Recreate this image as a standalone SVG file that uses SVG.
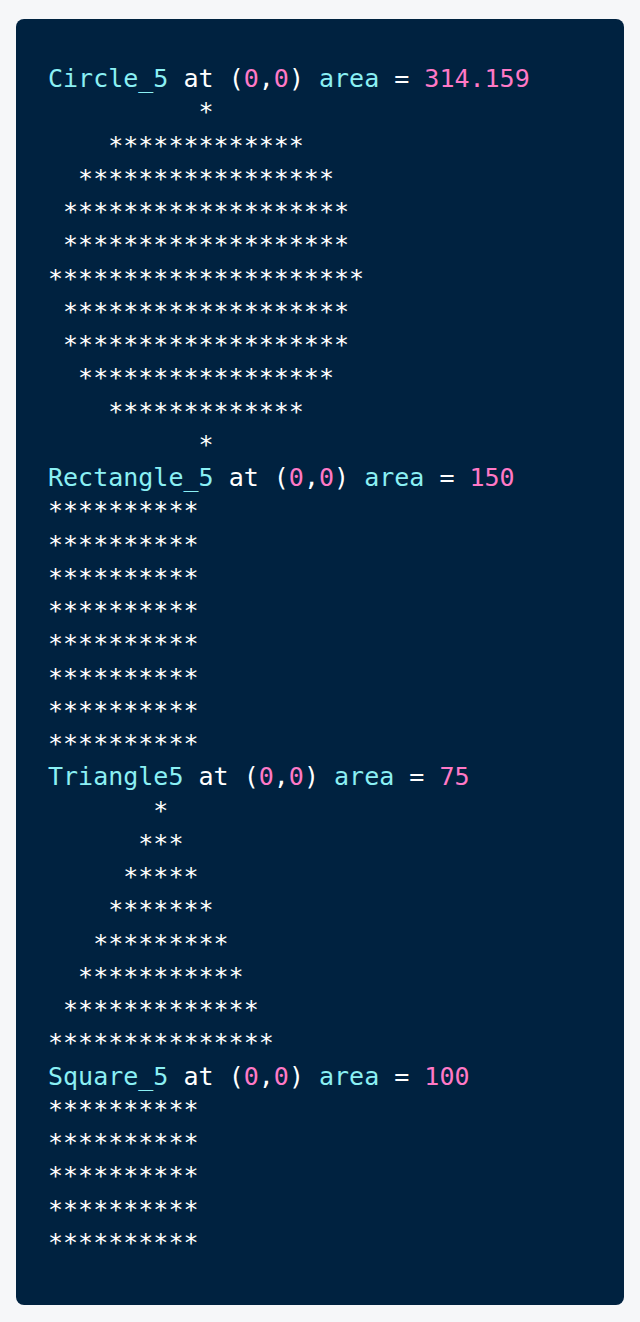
<svg xmlns="http://www.w3.org/2000/svg" width="640" height="1322" viewBox="0 0 640 1322">
<style>
text{font-family:"DejaVu Sans Mono","Liberation Mono",monospace;font-size:25px;fill:#ffffff;white-space:pre}
.c{fill:#8bf0f4}
.p{fill:#ff79c6}
</style>
<rect x="0" y="0" width="640" height="1322" fill="#f6f7f9"/>
<g id="panel"><rect x="16" y="19" width="608" height="1286" rx="8" fill="#002240"/></g>
<g id="circle" xml:space="preserve">
<text x="48" y="87"><tspan class="c">Circle_5</tspan> at (<tspan class="p">0</tspan>,<tspan class="p">0</tspan>) <tspan class="c">area</tspan> = <tspan class="p">314.159</tspan></text>
<text x="48" y="120.25">          *</text>
<text x="48" y="153.5">    *************</text>
<text x="48" y="186.75">  *****************</text>
<text x="48" y="220"> *******************</text>
<text x="48" y="253.25"> *******************</text>
<text x="48" y="286.5">*********************</text>
<text x="48" y="319.75"> *******************</text>
<text x="48" y="353"> *******************</text>
<text x="48" y="386.25">  *****************</text>
<text x="48" y="419.5">    *************</text>
<text x="48" y="452.75">          *</text>
</g>
<g id="rectangle" xml:space="preserve">
<text x="48" y="486"><tspan class="c">Rectangle_5</tspan> at (<tspan class="p">0</tspan>,<tspan class="p">0</tspan>) <tspan class="c">area</tspan> = <tspan class="p">150</tspan></text>
<text x="48" y="519.25">**********</text>
<text x="48" y="552.5">**********</text>
<text x="48" y="585.75">**********</text>
<text x="48" y="619">**********</text>
<text x="48" y="652.25">**********</text>
<text x="48" y="685.5">**********</text>
<text x="48" y="718.75">**********</text>
<text x="48" y="752">**********</text>
</g>
<g id="triangle" xml:space="preserve">
<text x="48" y="785.25"><tspan class="c">Triangle5</tspan> at (<tspan class="p">0</tspan>,<tspan class="p">0</tspan>) <tspan class="c">area</tspan> = <tspan class="p">75</tspan></text>
<text x="48" y="818.5">       *</text>
<text x="48" y="851.75">      ***</text>
<text x="48" y="885">     *****</text>
<text x="48" y="918.25">    *******</text>
<text x="48" y="951.5">   *********</text>
<text x="48" y="984.75">  ***********</text>
<text x="48" y="1018"> *************</text>
<text x="48" y="1051.25">***************</text>
</g>
<g id="square" xml:space="preserve">
<text x="48" y="1084.5"><tspan class="c">Square_5</tspan> at (<tspan class="p">0</tspan>,<tspan class="p">0</tspan>) <tspan class="c">area</tspan> = <tspan class="p">100</tspan></text>
<text x="48" y="1117.75">**********</text>
<text x="48" y="1151">**********</text>
<text x="48" y="1184.25">**********</text>
<text x="48" y="1217.5">**********</text>
<text x="48" y="1250.75">**********</text>
</g>
<g id="connectors"/>
</svg>
